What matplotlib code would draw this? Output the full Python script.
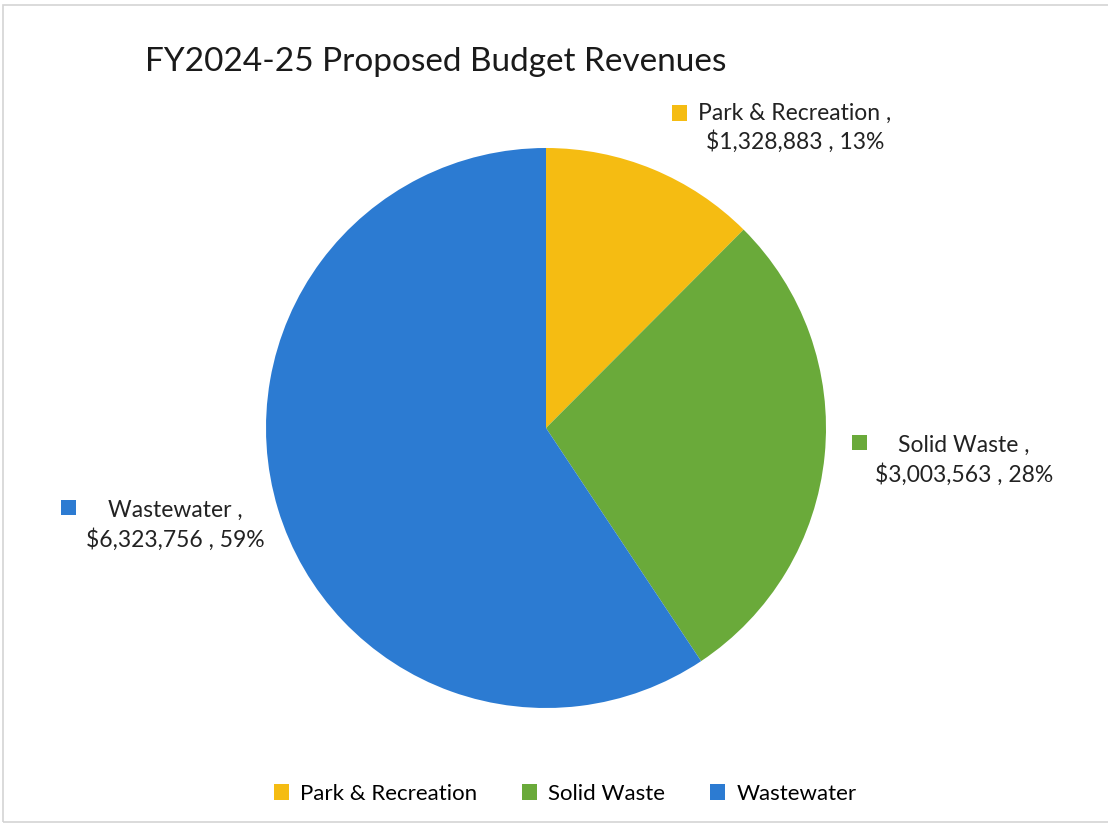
import matplotlib.pyplot as plt
from matplotlib.patches import Rectangle

# Revenue sources and amounts
categories = ["Park & Recreation", "Solid Waste", "Wastewater"]
amounts = [1328883, 3003563, 6323756]
pct_labels = ["13%", "28%", "59%"]
colors = ["#F5BC12", "#6AAA3A", "#2C7BD2"]

plt.rcParams['font.family'] = ['Lato', 'DejaVu Sans']

fig = plt.figure(figsize=(11.08, 8.31), dpi=100)
W, H = 1108, 831

# Thin light-gray frame around the chart area
fig.patches.append(Rectangle((3 / W, (H - 822) / H), 1.2, (822 - 5) / H,
                             transform=fig.transFigure, fill=False,
                             edgecolor="#d4d4d4", linewidth=1.2))

# Pie: center (546, 428), radius 280 px
cx, cy, r = 546, 428, 280
ax = fig.add_axes([(cx - r) / W, (H - cy - r) / H, 2 * r / W, 2 * r / H])
wedges, _ = ax.pie(amounts, colors=colors, startangle=90, counterclock=False,
                   radius=1.0, wedgeprops=dict(linewidth=0))
ax.set_xlim(-1, 1)
ax.set_ylim(-1, 1)
ax.set_aspect("equal")
ax.axis("off")

fig.text(145 / W, 1 - 62 / H, "FY2024-25 Proposed Budget Revenues",
         fontsize=24, color="#1a1a1a", va="center", ha="left")


def data_label(i, key_x, key_y, text_x, line1_y, line2_y):
    """Two-line data label with a small colored key square"""
    s = 15
    fig.patches.append(Rectangle(((key_x - s / 2) / W, 1 - (key_y + s / 2) / H),
                                 s / W, s / H, transform=fig.transFigure,
                                 facecolor=colors[i], edgecolor="none"))
    fig.text(text_x / W, 1 - line1_y / H, f"{categories[i]} ,",
             fontsize=16.5, color="#222222", ha="center", va="center")
    fig.text(text_x / W, 1 - line2_y / H,
             f"${amounts[i]:,} , {pct_labels[i]}",
             fontsize=16.5, color="#222222", ha="center", va="center")


data_label(0, 679, 113, 795, 113, 142)
data_label(1, 859, 442, 964, 445, 475)
data_label(2, 68, 507, 175, 510, 540)

handles = [Rectangle((0, 0), 1, 1, facecolor=c, edgecolor="none") for c in colors]
fig.legend(handles, categories, loc="center", bbox_to_anchor=(0.51, 1 - 794 / H),
           ncol=3, frameon=False, fontsize=16, handlelength=0.7, handleheight=0.7,
           handletextpad=0.5, columnspacing=2.0)

fig.savefig("out.png", dpi=100, facecolor="white")
